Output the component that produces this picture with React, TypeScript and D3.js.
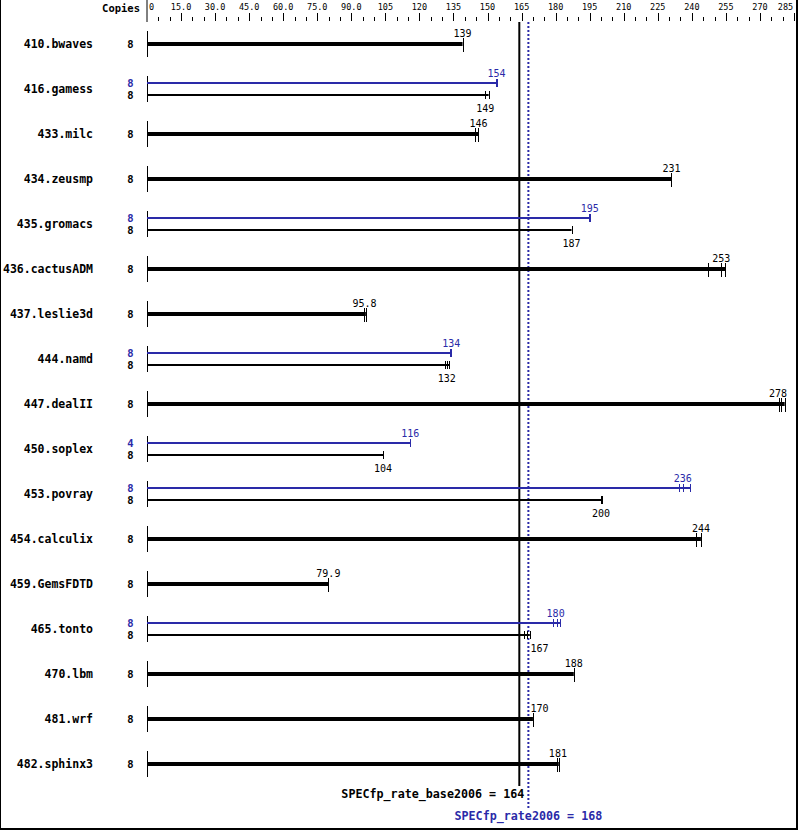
import React from 'react';
import * as d3 from 'd3';

const benchmarks = ['410.bwaves','416.gamess','433.milc','434.zeusmp','435.gromacs','436.cactusADM','437.leslie3d','444.namd','447.dealII','450.soplex','453.povray','454.calculix','459.GemsFDTD','465.tonto','470.lbm','481.wrf','482.sphinx3'];
const baseCopies = [8,8,8,8,8,8,8,8,8,8,8,8,8,8,8,8,8];
const baseValues = [139,149,146,231,187,253,95.8,132,278,104,200,244,79.9,167,188,170,181];
const baseRuns: number[][] = [[139],[149,150.5],[144.6,146],[231],[187],[247.3,253,254.8],[95.7,96.4],[131.4,132.2,133.1],[278.3,279.3,280.9],[104],[199.8,200.3],[242,244],[79.9],[166.1,167.2,168.6],[188],[170],[180.4,181.4]];
const peakCopies: (number|null)[] = [null,8,null,null,8,null,null,8,null,4,8,null,null,8,null,null,null];
const peakValues: (number|null)[] = [null,154,null,null,195,null,null,134,null,116,236,null,null,180,null,null,null];
const peakRuns: (number[]|null)[] = [null,[153.6,154],null,null,[194.6,195],null,null,[133.6,134],null,[116],[234.4,236.2,239.2],null,null,[178.9,180.4,181.9],null,null,null];
const axisMax = 285;
const baseMean = 164;
const peakMean = 168;
const baseLabel = 'SPECfp_rate_base2006 = 164';
const peakLabel = 'SPECfp_rate2006 = 168';

const BLUE = '#2a2aa8';
const MONO = '"DejaVu Sans Mono", "Liberation Mono", monospace';

export default function App() {
  const W = 799, H = 831;
  const x = d3.scaleLinear().domain([0, axisMax]).range([147, 794]);
  const rowY = (i: number) => 44 + 45 * i;
  const majors = d3.range(0, axisMax + 1, 15);
  const minors = d3.range(0, axisMax + 1, 5).filter(v => v % 15 !== 0);
  const fmt = (v: number) => (v === 0 ? '0' : v < 100 ? v.toFixed(1) : String(v));
  const baseX = x(baseMean);
  const peakX = x(peakMean);
  const charW = 6.02;

  const valueLabelX = (v: number, text: string) => {
    const cx = x(v);
    const w = text.length * charW;
    if (cx - w / 2 < peakX + 2 && cx + w / 2 > baseX - 2) return peakX + 2 + w / 2;
    return cx;
  };
  const barEnd = (v: number, runs: number[]) => x(Math.max(v, d3.max(runs) ?? v));

  const fmtVal = (v: number) => String(v);

  return (
    <svg width={W} height={H} style={{ position: 'absolute', left: 0, top: 0, display: 'block', background: '#fff' }} fontFamily={MONO}>
      <rect x={0} y={0} width={W} height={H} fill="#fff" />
      <line x1={0.5} y1={0} x2={0.5} y2={830} stroke="#000" strokeWidth={1} />
      <line x1={797} y1={0} x2={797} y2={830} stroke="#000" strokeWidth={2} />
      <line x1={0} y1={829} x2={798} y2={829} stroke="#000" strokeWidth={2} />

      <text x={140} y={12} textAnchor="end" fontSize={10.5} fontWeight="bold">Copies</text>
      <line x1={x(0)} y1={0} x2={x(0)} y2={22} stroke="#000" strokeWidth={1} />
      {majors.filter(v => v !== 0).map(v => (
        <line key={'M' + v} x1={Math.round(x(v)) + 0.5} y1={13} x2={Math.round(x(v)) + 0.5} y2={21} stroke="#000" strokeWidth={1} />
      ))}
      {minors.map(v => (
        <line key={'m' + v} x1={Math.round(x(v)) + 0.5} y1={17} x2={Math.round(x(v)) + 0.5} y2={21} stroke="#000" strokeWidth={1} />
      ))}
      {majors.map(v => {
        const t = fmt(v);
        const w = t.length * 5;
        let cx = x(v);
        let anchor: 'start' | 'middle' = 'middle';
        if (v === 0) { anchor = 'start'; cx = x(0) + 2; }
        else if (cx + w / 2 > 793) cx = 793 - w / 2;
        return <text key={'L' + v} x={cx} y={10} textAnchor={anchor} fontSize={8.5}>{t}</text>;
      })}

      <line x1={baseX} y1={22} x2={baseX} y2={786} stroke="#000" strokeWidth={2} />
      <line x1={peakX} y1={22} x2={peakX} y2={808} stroke={BLUE} strokeWidth={2} strokeDasharray="2,2" />

      {benchmarks.map((name, i) => {
        const c = rowY(i);
        const hasPeak = peakValues[i] !== null;
        const els: React.ReactNode[] = [];
        els.push(<text key="n" x={93} y={c} dy="0.34em" textAnchor="end" fontSize={11.5} fontWeight="bold">{name}</text>);
        els.push(<line key="ax" x1={147.5} y1={c - 13} x2={147.5} y2={c + 13} stroke="#000" strokeWidth={1} />);
        if (!hasPeak) {
          const v = baseValues[i];
          els.push(<text key="c" x={130.5} y={c} dy="0.34em" textAnchor="middle" fontSize={10.5} fontWeight="bold">{baseCopies[i]}</text>);
          els.push(<rect key="b" x={x(0)} y={c - 2} width={barEnd(v, baseRuns[i]) - x(0)} height={4} fill="#000" />);
          baseRuns[i].forEach((r, k) => (
            els.push(<line key={'r' + k} x1={Math.round(x(r)) + 0.5} y1={c - 6} x2={Math.round(x(r)) + 0.5} y2={c + 8} stroke="#000" strokeWidth={1} />)
          ));
          const t = fmtVal(v);
          els.push(<text key="v" x={valueLabelX(v, t)} y={c - 7} textAnchor="middle" fontSize={10}>{t}</text>);
        } else {
          const pv = peakValues[i] as number;
          const bv = baseValues[i];
          const pr = peakRuns[i] as number[];
          const py = c - 6, by = c + 6;
          els.push(<text key="pc" x={130.5} y={py} dy="0.34em" textAnchor="middle" fontSize={10.5} fontWeight="bold" fill={BLUE}>{peakCopies[i]}</text>);
          els.push(<text key="bc" x={130.5} y={by} dy="0.34em" textAnchor="middle" fontSize={10.5} fontWeight="bold">{baseCopies[i]}</text>);
          els.push(<rect key="pb" x={x(0)} y={py - 1} width={barEnd(pv, pr) - x(0)} height={2} fill={BLUE} />);
          els.push(<rect key="bb" x={x(0)} y={by - 1} width={barEnd(bv, baseRuns[i]) - x(0)} height={2} fill="#000" />);
          pr.forEach((r, k) => (
            els.push(<line key={'pr' + k} x1={Math.round(x(r)) + 0.5} y1={py - 4} x2={Math.round(x(r)) + 0.5} y2={py + 4} stroke={BLUE} strokeWidth={1} />)
          ));
          baseRuns[i].forEach((r, k) => (
            els.push(<line key={'br' + k} x1={Math.round(x(r)) + 0.5} y1={by - 4} x2={Math.round(x(r)) + 0.5} y2={by + 4} stroke="#000" strokeWidth={1} />)
          ));
          const pt = fmtVal(pv);
          const bt = fmtVal(bv);
          els.push(<text key="pv" x={valueLabelX(pv, pt)} y={py - 6} textAnchor="middle" fontSize={10} fill={BLUE}>{pt}</text>);
          els.push(<text key="bv" x={valueLabelX(bv, bt)} y={by + 16.5} textAnchor="middle" fontSize={10}>{bt}</text>);
        }
        return <g key={name}>{els}</g>;
      })}

      <text x={baseX + 5} y={798} textAnchor="end" fontSize={11.7} fontWeight="bold">{baseLabel}</text>
      <text x={peakX} y={820} textAnchor="middle" fontSize={11.7} fontWeight="bold" fill={BLUE}>{peakLabel}</text>
    </svg>
  );
}
